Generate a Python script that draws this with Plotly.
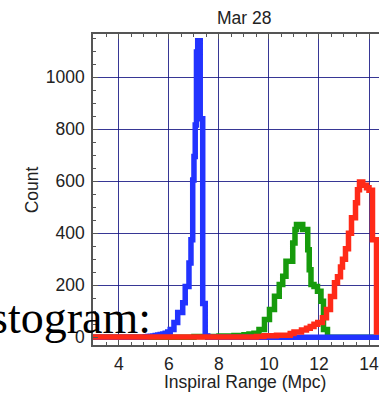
import plotly.graph_objects as go

# ---------------- data (histogram steps: x where a bin starts, count) ----------------
blue_x = [2.95, 5.05, 5.15, 5.25, 5.35, 5.45, 5.55, 5.65, 5.75, 5.85, 5.95, 6.05, 6.2, 6.35, 6.55,
          6.65, 6.8, 6.88, 6.95, 7.0, 7.05, 7.1, 7.15, 7.25, 7.35, 7.45, 7.55, 14.6]
blue_y = [0, 2, 3, 4, 5, 7, 9, 11, 13, 16, 20, 30, 57, 95, 133,
          195, 286, 375, 605, 695, 816, 1097, 1140, 840, 130, 5, 0, 0]

green_x = [2.95, 7.0, 8.0, 8.6, 9.0, 9.2, 9.4, 9.6, 9.82, 10.02, 10.22, 10.41, 10.55, 10.68,
           10.95, 11.04, 11.1, 11.2, 11.25, 11.35, 11.55, 11.61, 11.68, 11.8, 11.94, 12.08,
           12.18, 12.34, 14.6]
green_y = [0, 3, 5, 7, 10, 13, 16, 30, 68, 107, 158, 203, 235, 292,
           363, 414, 434, 426, 434, 414, 337, 260, 203, 195, 177, 139,
           30, 0, 0]

red_x = [2.95, 9.5, 9.8, 10.3, 10.85, 11.0, 11.3, 11.5, 11.65, 11.8, 11.95, 12.14, 12.3, 12.46,
         12.62, 12.74, 12.86, 12.94, 13.06, 13.18, 13.3, 13.46, 13.54, 13.62, 13.75, 13.9,
         14.0, 14.14, 14.3, 14.6]
red_y = [1, 3, 6, 8, 15, 20, 28, 35, 42, 50, 57, 75, 107, 157,
         210, 233, 270, 300, 340, 400, 460, 517, 567, 597, 585, 575,
         565, 375, 20, 5]

x_ticks = [4, 6, 8, 10, 12, 14]
y_ticks = [0, 200, 400, 600, 800, 1000]

title_text = "Mar 28"
x_title = "Inspiral Range (Mpc)"
y_title = "Count"
overlay_text = "Histogram:"

# ---------------- layout geometry ----------------
W, H = 379, 393
L, R, T, B = 92.5, 0, 34, 47.5
plot_w = W - L - R
plot_h = H - T - B


def px_x(p):
    return (p - L) / plot_w


def px_y(p):
    return (H - B - p) / plot_h


sans = "Liberation Sans, Arial, sans-serif"
txt_col = "#222222"
fs = 17.5
grid_col = "rgba(20,20,130,0.85)"
axis_col = "#555555"

fig = go.Figure()
# draw order: green, blue, red (red on top, blue baseline above green's)
for xs, ys, col in [(green_x, green_y, "#169b0c"), (blue_x, blue_y, "#2233ff"), (red_x, red_y, "#ff2a18")]:
    fig.add_trace(go.Scatter(x=xs, y=ys, mode="lines", line=dict(color=col, width=5.5, shape="hv"),
                             showlegend=False, hoverinfo="skip"))

fig.update_layout(
    width=W, height=H,
    margin=dict(l=L, r=R, t=T, b=B, pad=0),
    paper_bgcolor="white", plot_bgcolor="white",
    font=dict(family=sans, size=fs, color=txt_col),
    showlegend=False,
)

fig.update_xaxes(
    range=[2.962, 14.40], tickvals=x_ticks, ticktext=[str(v) for v in x_ticks],
    showgrid=True, gridcolor=grid_col, gridwidth=1.2,
    ticks="inside", ticklen=5, tickcolor=axis_col, tickwidth=1,
    minor=dict(dtick=0.5, tick0=0, ticks="inside", ticklen=3, tickcolor=axis_col, showgrid=False),
    showline=True, linecolor=axis_col, linewidth=1.5, mirror="allticks",
    zeroline=False, tickfont=dict(size=fs, family=sans, color=txt_col),
    ticklabelstandoff=2,
)
fig.update_yaxes(
    range=[-29.6, 1166], tickvals=y_ticks, ticktext=[str(v) for v in y_ticks],
    showgrid=True, gridcolor=grid_col, gridwidth=1.2,
    ticks="inside", ticklen=5, tickcolor=axis_col, tickwidth=1,
    minor=dict(dtick=50, tick0=0, ticks="inside", ticklen=3, tickcolor=axis_col, showgrid=False),
    showline=True, linecolor=axis_col, linewidth=1.5, mirror=False,
    zeroline=False, tickfont=dict(size=fs, family=sans, color=txt_col),
    ticklabelstandoff=3,
)

annos = [
    dict(text=title_text, x=px_x(244), y=px_y(18), font=dict(size=fs, family=sans, color=txt_col),
         xanchor="center", yanchor="middle"),
    dict(text=x_title, x=px_x(245), y=px_y(383), font=dict(size=fs, family=sans, color=txt_col),
         xanchor="center", yanchor="middle"),
    dict(text=y_title, x=px_x(31), y=px_y(190), textangle=-90, font=dict(size=fs, family=sans, color=txt_col),
         xanchor="center", yanchor="middle"),
    dict(text=overlay_text, x=px_x(153), y=px_y(318),
         font=dict(size=46, family="Liberation Serif, Times New Roman, serif", color="black"),
         xanchor="right", yanchor="middle"),
]
for a in annos:
    fig.add_annotation(xref="paper", yref="paper", showarrow=False, **a)

fig.write_html("out.html")
